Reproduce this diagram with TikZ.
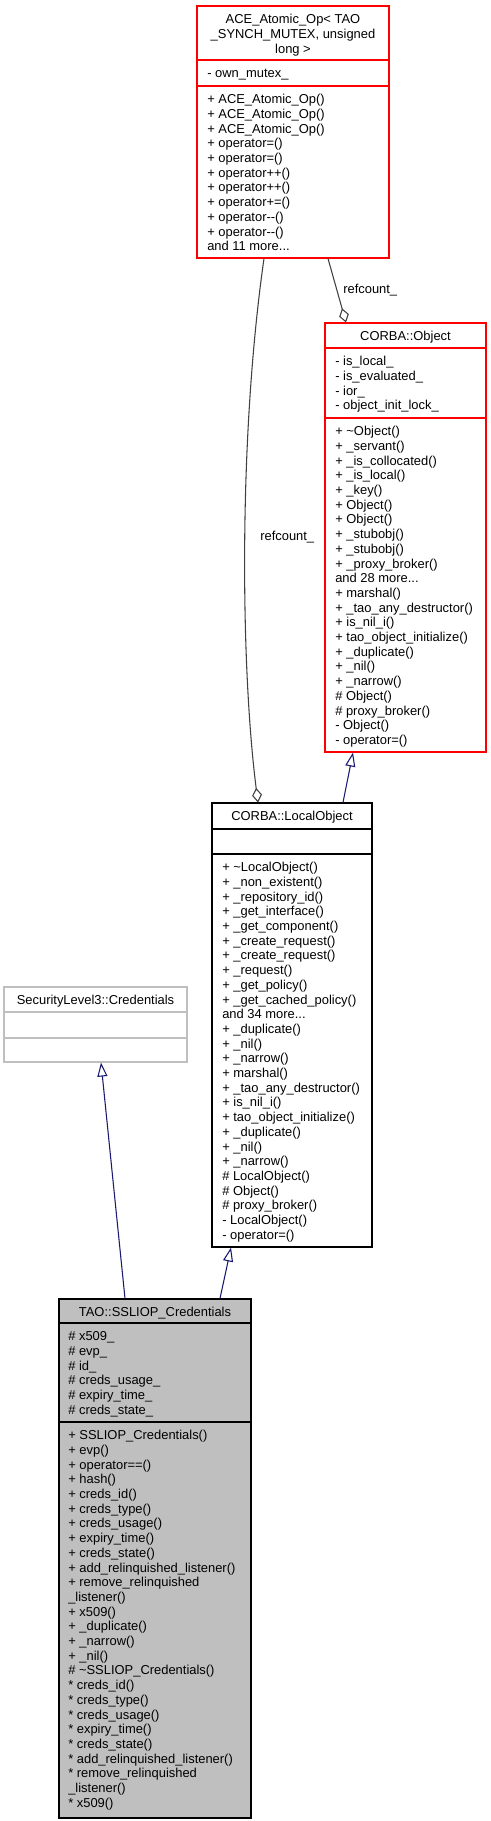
\documentclass[tikz,border=0pt]{standalone}
\usepackage{fontspec}
\setmainfont{Liberation Sans}
\usetikzlibrary{arrows.meta,fit}
\definecolor{navyarrow}{RGB}{25,25,112}
\definecolor{greyline}{RGB}{64,64,64}
\definecolor{greyfill}{RGB}{191,191,191}
\begin{document}
\begin{tikzpicture}[x=0.75pt,y=-0.75pt,
  classbox/.style={inner sep=0pt, line width=0.8pt},
  rows/.style={inner sep=0pt, font=\fontsize{9.7pt}{11.025pt}\selectfont},
  seprule/.style={line width=0.8pt},
  inherit/.style={draw=navyarrow, line width=0.8pt, -{Triangle[open,length=10.5pt,width=7.5pt]}},
  member/.style={draw=greyline, line width=0.8pt, -{Diamond[open,length=11pt,width=7.5pt]}},
  lbl/.style={inner sep=0pt, anchor=west, font=\fontsize{9.7pt}{11.025pt}\selectfont}]
\useasboundingbox (0,0) rectangle (491,1821);

% ---------- ACE_Atomic_Op ----------
\node[classbox, draw=red, fit={(197,6) (389,258)}] (ace) {};
\draw[seprule, red] (197,60) -- (389,60);
\draw[seprule, red] (197,86) -- (389,86);
\node[rows, anchor=north] (ace-title) at (293,13.2) {\begin{tabular}{@{}c@{}}ACE\_Atomic\_Op< TAO\\ \_SYNCH\_MUTEX, unsigned\\ long >\end{tabular}};
\node[rows, anchor=north west] (ace-attr) at (207,67.2) {\begin{tabular}{@{}l@{}}- own\_mutex\_\end{tabular}};
\node[rows, anchor=north west] (ace-meth) at (207,93.2) {\begin{tabular}{@{}l@{}}
+ ACE\_Atomic\_Op()\\
+ ACE\_Atomic\_Op()\\
+ ACE\_Atomic\_Op()\\
+ operator=()\\
+ operator=()\\
+ operator++()\\
+ operator++()\\
+ operator+=()\\
+ operator-{}-()\\
+ operator-{}-()\\
and 11 more...\end{tabular}};

% ---------- CORBA::Object ----------
\node[classbox, draw=red, fit={(325,323) (486,752)}] (obj) {};
\draw[seprule, red] (325,348) -- (486,348);
\draw[seprule, red] (325,418) -- (486,418);
\node[rows, anchor=north] (obj-title) at (405.5,330.2) {\begin{tabular}{@{}c@{}}CORBA::Object\end{tabular}};
\node[rows, anchor=north west] (obj-attr) at (335,355.2) {\begin{tabular}{@{}l@{}}
- is\_local\_\\
- is\_evaluated\_\\
- ior\_\\
- object\_init\_lock\_\end{tabular}};
\node[rows, anchor=north west] (obj-meth) at (335,425.2) {\begin{tabular}{@{}l@{}}
+ \textasciitilde Object()\\
+ \_servant()\\
+ \_is\_collocated()\\
+ \_is\_local()\\
+ \_key()\\
+ Object()\\
+ Object()\\
+ \_stubobj()\\
+ \_stubobj()\\
+ \_proxy\_broker()\\
and 28 more...\\
+ marshal()\\
+ \_tao\_any\_destructor()\\
+ is\_nil\_i()\\
+ tao\_object\_initialize()\\
+ \_duplicate()\\
+ \_nil()\\
+ \_narrow()\\
\# Object()\\
\# proxy\_broker()\\
- Object()\\
- operator=()\end{tabular}};

% ---------- CORBA::LocalObject ----------
\node[classbox, draw=black, fit={(212,803) (372,1247)}] (local) {};
\draw[seprule] (212,829) -- (372,829);
\draw[seprule] (212,854) -- (372,854);
\node[rows, anchor=north] (local-title) at (292,810.2) {\begin{tabular}{@{}c@{}}CORBA::LocalObject\end{tabular}};
\node[rows, anchor=north west] (local-meth) at (222,861.2) {\begin{tabular}{@{}l@{}}
+ \textasciitilde LocalObject()\\
+ \_non\_existent()\\
+ \_repository\_id()\\
+ \_get\_interface()\\
+ \_get\_component()\\
+ \_create\_request()\\
+ \_create\_request()\\
+ \_request()\\
+ \_get\_policy()\\
+ \_get\_cached\_policy()\\
and 34 more...\\
+ \_duplicate()\\
+ \_nil()\\
+ \_narrow()\\
+ marshal()\\
+ \_tao\_any\_destructor()\\
+ is\_nil\_i()\\
+ tao\_object\_initialize()\\
+ \_duplicate()\\
+ \_nil()\\
+ \_narrow()\\
\# LocalObject()\\
\# Object()\\
\# proxy\_broker()\\
- LocalObject()\\
- operator=()\end{tabular}};

% ---------- SecurityLevel3::Credentials ----------
\node[classbox, draw=greyfill, fit={(4,987) (187,1062)}] (sec) {};
\draw[seprule, greyfill] (4,1012) -- (187,1012);
\draw[seprule, greyfill] (4,1038) -- (187,1038);
\node[rows, anchor=north] (sec-title) at (95.5,994.2) {\begin{tabular}{@{}c@{}}SecurityLevel3::Credentials\end{tabular}};

% ---------- TAO::SSLIOP_Credentials ----------
\node[classbox, draw=black, fill=greyfill, fit={(59,1299) (251,1818)}] (tao) {};
\draw[seprule] (59,1323) -- (251,1323);
\draw[seprule] (59,1422) -- (251,1422);
\node[rows, anchor=north] (tao-title) at (155,1306.2) {\begin{tabular}{@{}c@{}}TAO::SSLIOP\_Credentials\end{tabular}};
\node[rows, anchor=north west] (tao-attr) at (68,1330.2) {\begin{tabular}{@{}l@{}}
\# x509\_\\
\# evp\_\\
\# id\_\\
\# creds\_usage\_\\
\# expiry\_time\_\\
\# creds\_state\_\end{tabular}};
\node[rows, anchor=north west] (tao-meth) at (68,1429.2) {\begin{tabular}{@{}l@{}}
+ SSLIOP\_Credentials()\\
+ evp()\\
+ operator==()\\
+ hash()\\
+ creds\_id()\\
+ creds\_type()\\
+ creds\_usage()\\
+ expiry\_time()\\
+ creds\_state()\\
+ add\_relinquished\_listener()\\
+ remove\_relinquished\\
\_listener()\\
+ x509()\\
+ \_duplicate()\\
+ \_narrow()\\
+ \_nil()\\
\# \textasciitilde SSLIOP\_Credentials()\\
{*} creds\_id()\\
{*} creds\_type()\\
{*} creds\_usage()\\
{*} expiry\_time()\\
{*} creds\_state()\\
{*} add\_relinquished\_listener()\\
{*} remove\_relinquished\\
\_listener()\\
{*} x509()\end{tabular}};

% ---------- connectors ----------
\draw[inherit] ([xshift=-22.5pt]tao.north) -- ([xshift=4.125pt]sec.south);
\draw[inherit] ([xshift=48.75pt]tao.north) -- ([xshift=-45.75pt]local.south);
\draw[inherit] ([xshift=38.25pt]local.north) -- ([xshift=-39.375pt]obj.south);
\draw[member] ([xshift=26.25pt]ace.south) -- ([xshift=-44.625pt]obj.north);
\draw[member] ([xshift=-21.75pt]ace.south) .. controls (238,440) and (241,670) .. ([xshift=-25.5pt]local.north);
\node[lbl] (rc-right) at (343,290) {refcount\_};
\node[lbl] (rc-left) at (260,537) {refcount\_};
\end{tikzpicture}
\end{document}
